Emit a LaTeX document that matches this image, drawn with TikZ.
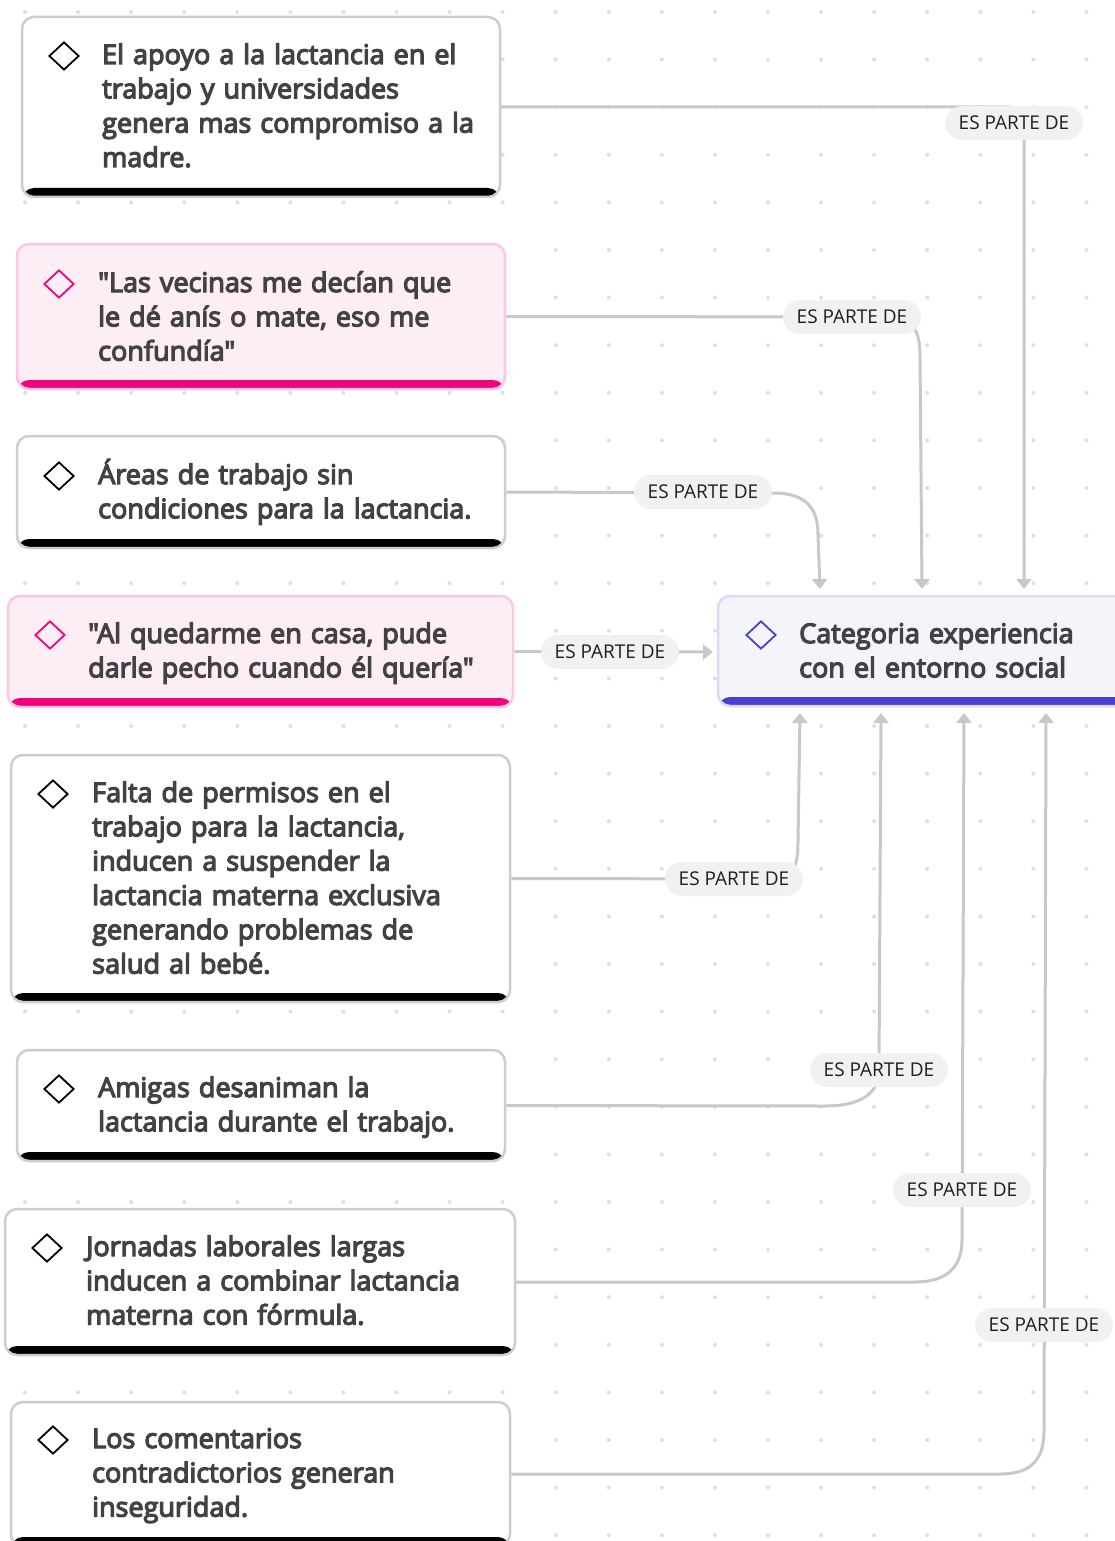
\documentclass[tikz,border=0pt]{standalone}
\usepackage{fontspec}
\setmainfont{Open Sans}
\newfontfamily\boxfont{Open Sans}[FakeBold=4.5]
\usetikzlibrary{arrows.meta,shapes.geometric,calc}
\definecolor{dotc}{HTML}{DEDEE6}
\definecolor{gborder}{HTML}{CDCDCD}
\definecolor{pborder}{HTML}{FFC5E1}
\definecolor{pfill}{HTML}{FDEEF6}
\definecolor{pbar}{HTML}{F0047F}
\definecolor{cborder}{HTML}{DCDAF5}
\definecolor{cfill}{HTML}{F4F4FB}
\definecolor{cbar}{HTML}{4A3FCF}
\definecolor{linec}{HTML}{C8C8C8}
\definecolor{lblfill}{HTML}{F1F1F1}
\definecolor{txtc}{HTML}{424242}
\tikzset{
  boxbase/.style={rectangle, rounded corners=12pt, line width=2.5pt, inner sep=0pt},
  gbox/.style={boxbase, draw=gborder, fill=white,
    path picture={\fill[black] (path picture bounding box.south west) rectangle ([yshift=9pt]path picture bounding box.south east);}},
  pbox/.style={boxbase, draw=pborder, fill=pfill,
    path picture={\fill[pbar] (path picture bounding box.south west) rectangle ([yshift=9pt]path picture bounding box.south east);}},
  cbox/.style={boxbase, draw=cborder, fill=cfill,
    path picture={\fill[cbar] (path picture bounding box.south west) rectangle ([yshift=9pt]path picture bounding box.south east);}},
  txt/.style={font=\boxfont\fontsize{27}{34.3}\selectfont, text=txtc, align=left, inner sep=0pt, text width=430pt, anchor=base west},
  dmd/.style={diamond, aspect=1, minimum width=30pt, minimum height=28pt, inner sep=0pt, line width=1.8pt, draw=#1},
  dmd/.default=black,
  conn/.style={draw=linec, line width=3pt},
  arr/.style={-{Triangle[width=15pt,length=10pt]}},
  lbl/.style={fill=lblfill, rounded corners=17pt, minimum width=138pt, minimum height=34pt, inner sep=0pt,
    font=\fontsize{19}{20}\selectfont, text=black!88},
}
\begin{document}
\begin{tikzpicture}[x=1pt,y=-1pt]
\useasboundingbox (0,0) rectangle (1114,1541);
% dot grid
\foreach \i in {0,...,20}{
  \foreach \j in {0,...,32}{
    \fill[dotc] (25+53.07*\i, 12+47.6*\j) circle (2);
  }
}
% boxes
\node[gbox, minimum width=478pt, minimum height=180pt] (b1) at (261,107) {};
\node[pbox, minimum width=488pt, minimum height=145pt] (b2) at (261,316.5) {};
\node[gbox, minimum width=488pt, minimum height=112pt] (b3) at (261,492) {};
\node[pbox, minimum width=505pt, minimum height=111pt] (b4) at (260.5,651.5) {};
\node[cbox, minimum width=412pt, minimum height=110pt] (c) at (924,651) {};
\node[gbox, minimum width=499pt, minimum height=247pt] (b5) at (260.5,878.5) {};
\node[gbox, minimum width=488pt, minimum height=111pt] (b6) at (261,1105.5) {};
\node[gbox, minimum width=510pt, minimum height=146pt] (b7) at (260,1282) {};
\node[gbox, minimum width=499pt, minimum height=144pt] (b8) at (260.5,1474) {};
% diamonds
\node[dmd] (b1d) at (64,56) {};
\node[dmd=pbar] (b2d) at (59,284) {};
\node[dmd] (b3d) at (59,476) {};
\node[dmd=pbar] (b4d) at (50,635) {};
\node[dmd=cbar] (cd) at (761,635) {};
\node[dmd] (b5d) at (53,794) {};
\node[dmd] (b6d) at (59,1089) {};
\node[dmd] (b7d) at (47,1248) {};
\node[dmd] (b8d) at (53,1440) {};
% texts
\node[txt] (b1t) at (102,64) {El apoyo a la lactancia en el\\trabajo y universidades\\genera mas compromiso a la\\madre.};
\node[txt] (b2t) at (98,292) {"Las vecinas me decían que\\le dé anís o mate, eso me\\confundía"};
\node[txt] (b3t) at (98,484) {Áreas de trabajo sin\\condiciones para la lactancia.};
\node[txt] (b4t) at (88,643) {"Al quedarme en casa, pude\\darle pecho cuando él quería"};
\node[txt] (ct) at (799,643) {Categoria experiencia\\con el entorno social};
\node[txt] (b5t) at (92,802) {Falta de permisos en el\\trabajo para la lactancia,\\inducen a suspender la\\lactancia materna exclusiva\\generando problemas de\\salud al bebé.};
\node[txt] (b6t) at (98,1097) {Amigas desaniman la\\lactancia durante el trabajo.};
\node[txt] (b7t) at (86,1256) {Jornadas laborales largas\\inducen a combinar lactancia\\materna con fórmula.};
\node[txt] (b8t) at (92,1448) {Los comentarios\\contradictorios generan\\inseguridad.};
% connector end points
\coordinate (in1) at (1024,589);
\coordinate (in2) at (922,589);
\coordinate (in3) at (820,589);
\coordinate (in4) at (713,652);
\coordinate (in5) at (800,713);
\coordinate (in6) at (881,713);
\coordinate (in7) at (964,713);
\coordinate (in8) at (1046,713);
% connectors
\draw[conn, arr, rounded corners=16pt] (b1.east) -| (in1);
\draw[conn, arr] (b2.east) -- (890,317) .. controls (913,317) and (920,332) .. (920,355) -- (in2);
\draw[conn, arr] (b3.east) -- (773,493) .. controls (808,493) and (818,510) .. (818,535) -- (in3);
\draw[conn, arr] (b4.east) -- (in4);
\draw[conn, arr] (b5.east) -- (775,879) .. controls (793,879) and (798,866) .. (798,842) -- (in5);
\draw[conn, arr] (b6.east) -- (825,1106) .. controls (860,1106) and (879,1094) .. (879,1070) -- (in6);
\draw[conn, arr] (b7.east) -- (915,1282) .. controls (948,1282) and (962,1266) .. (962,1240) -- (in7);
\draw[conn, arr] (b8.east) -- (1000,1474) .. controls (1033,1474) and (1044,1458) .. (1044,1430) -- (in8);
% labels
\node[lbl] (l1) at (1014,123) {ES PARTE DE};
\node[lbl] (l2) at (852,317) {ES PARTE DE};
\node[lbl] (l3) at (703,492) {ES PARTE DE};
\node[lbl] (l4) at (610,652) {ES PARTE DE};
\node[lbl] (l5) at (734,879) {ES PARTE DE};
\node[lbl] (l6) at (879,1070) {ES PARTE DE};
\node[lbl] (l7) at (962,1190) {ES PARTE DE};
\node[lbl] (l8) at (1044,1325) {ES PARTE DE};
\end{tikzpicture}
\end{document}
